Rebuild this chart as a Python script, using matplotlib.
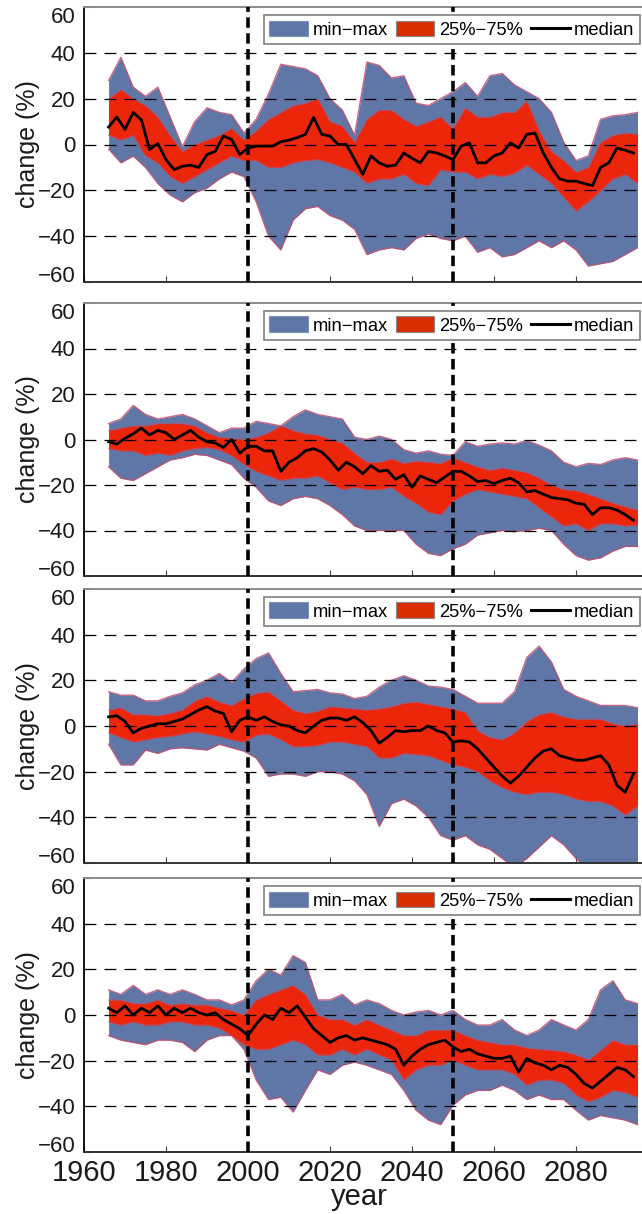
import matplotlib
matplotlib.use("Agg")
import matplotlib.pyplot as plt
from matplotlib.patches import Patch
from matplotlib.lines import Line2D

plt.rcParams['font.family'] = ['Liberation Sans', 'DejaVu Sans']

# ---------------------------------------------------------------- data
band_years = list(range(1966, 2096, 3))     # ensemble spread, every 3 years
median_years = list(range(1966, 2095, 2))   # ensemble median, every 2 years

# panel 1
p1_max = [28, 38, 25, 21, 25, 12, -1, 10, 16, 14, 13, 5, 11, 22, 35, 34, 33, 30,
          20, 15, 4, 36, 34.5, 29, 30, 18, 17, 20, 23, 27, 21, 30, 31, 26, 23, 20,
          14, 1, -7, -5, 11, 12.5, 13, 14]
p1_q75 = [20, 24, 20, 17, 12, 4, -3, 0, 2, 4, 7, 2, 6, 11, 14, 17, 18, 20,
          10, 8, 1, 11, 15, 15, 11, 8, 10, 12, 7, 16, 12, 12, 14, 14, 19, 6,
          -3, -7, -12, -10, 1, 4, 5, 4.5]
p1_q25 = [4, 2, 4, -5, -8, -14, -17, -14, -11, -8, -5, -7, -7, -10, -10, -8, -7, -6.5,
          -8, -10, -12, -17, -15, -15, -13, -17, -18, -11, -12, -12, -15, -13, -14, -12.5,
          -9, -13, -17, -23, -29, -25, -20, -15, -13, -17]
p1_min = [-2, -8, -5, -10, -17, -22, -25, -21, -19, -15, -12, -14, -25, -40, -46, -33, -28, -27,
          -31, -33, -37, -48, -46, -45, -46, -41, -39, -41, -42, -40, -47, -45, -49, -48,
          -45, -42, -45, -42, -46, -53, -52, -51, -48, -45]
p1_median = [7.6, 12, 6.6, 14, 10.7, -2.2, 0.4, -6.6, -11, -9.5, -9, -10, -4.4, -3, 3.7,
             2.2, -4.4, -1.5, -0.7, -0.7, -0.7, 1.2, 1.9, 3, 4.4, 11.8,
             4.4, 3.7, 0, 0, -6.6, -13, -5, -8, -9.5, -9, -3.7, -6, -8, -3, -3.7, -5,
             -6.6, -0.7, 0.7, -8, -8, -5, -3.7, 0.7, -1.5, 4.4, 5, -3.7, -10, -15, -16,
             -16, -17, -18, -10, -8, -1.5, -2.5, -3.7]

# panel 2
p2_max = [7, 9, 15, 11, 9, 10, 11, 9, 6, 3, 5, 5, 8, 7, 6, 10, 13, 11,
          10, 9, 1, 0, 1.5, 0, -4.5, -6, -5, -6.5, -7, -1, -3, -2, -1.5, -2, -0.5, -2.5,
          -5, -10, -12, -10.5, -11, -9, -8, -9]
p2_q75 = [4, 5, 6, 6, 7, 7, 7, 6, 3, 1, 0.5, 0, 1, 3, 6, 4, 2.5, 2,
          0, -1.5, -6, -10, -10, -8.5, -10.5, -9.5, -10, -10.5, -8, -10, -12, -13.5, -12.5,
          -13.5, -14.5, -17, -20, -22, -22.5, -24, -26, -28, -29.5, -31]
p2_q25 = [-4, -5, -5, -7, -6, -7, -5, -4, -3.5, -4.5, -7, -11, -14, -16, -18, -17, -17, -16,
          -19, -22, -21, -22, -22, -21, -25, -28, -32, -33, -27, -24, -22, -23, -24, -25,
          -26, -30, -34, -38, -37, -40, -37, -37, -38, -37.5]
p2_min = [-12, -17, -18, -15, -12, -9, -8, -6.5, -7, -9, -11, -17, -21, -27, -29, -26, -25, -26,
          -29, -33, -38, -40, -40, -40, -40, -46, -50, -51, -48, -46, -42, -41, -40, -40.5,
          -40, -39, -40, -46, -51, -53, -52, -49, -47, -47]
p2_median = [-1, -2, 0.5, 2.5, 5, 2, 4, 3, 0, 2, 4, 1, -1, -1.5, -3.5, 0, -6, -3, -3, -5,
             -5, -14, -10, -8, -5, -4,
             -5.5, -9, -13.5, -10, -12, -15, -11.5, -14, -13.5, -17.5, -15.5, -21, -16,
             -17.5, -19, -16.5, -14, -14, -16, -18.5, -18, -19.4, -18, -17, -19, -23,
             -22.5, -24, -25.5, -26, -26.5, -28, -28.5, -33, -30, -30, -31, -33, -35.5]

# panel 3
p3_max = [15, 13.5, 13.5, 11, 11, 13, 14.5, 18, 20, 23, 19, 25, 29.5, 32, 23, 15, 15.5, 16,
          14.5, 14, 12, 13, 17, 20, 22, 20, 17.5, 17, 16, 13, 10, 10, 10, 15, 30, 35,
          28, 16, 13, 11, 9, 9, 9, 8]
p3_q75 = [7, 8, 5, 5, 4.5, 5.6, 7, 11, 13, 10.5, 9, 12, 14.3, 15, 11, 7, 5.5, 6.5,
          8.5, 8, 7.5, 7, 7.5, 8.5, 10, 10.5, 9.5, 8.5, 7.5, 6, -2, -5, -6, -3, 2, 5,
          6, 4, 3, 3, 3, 1, 0, 1]
p3_q25 = [-3, -5, -7, -6, -5, -4.5, -3.5, -2.5, -3.5, -4.5, -6, -7, -4, -3.5, -6, -9, -9, -8.5,
          -7, -7, -8, -9, -14, -14, -12, -12.5, -13, -15, -17, -18, -20, -24, -27, -29,
          -30, -29, -29, -30, -32, -33, -33, -35, -39, -35]
p3_min = [-8, -17, -17, -10.5, -12, -10, -9.5, -10, -10.5, -8, -9.5, -11, -14, -22, -21, -21,
          -22, -20, -20, -21, -24, -30, -44, -34, -32, -35, -40, -48, -50, -48, -52, -54,
          -58, -62, -58, -53, -48, -52, -58, -63, -66, -66, -68, -66]
p3_median = [4, 4.5, 2, -3, -1, 0, 1, 1, 2, 3, 5, 7, 8.5, 6.5, 5.5, -2.5, 2.5, 4, 2.5, 4,
             2, 0.5, 0, -2, -3, 0,
             2.5, 3.5, 3.5, 2.5, 4, 1.5, -2, -7.5, -5, -2, -2.5, -2, -2, 0, -2, -3, -7,
             -6.5, -7, -10, -14, -18, -22, -25, -22, -18, -14, -11, -10, -13, -14, -15,
             -15, -14, -13, -17, -26, -29, -21]

# panel 4
p4_max = [11, 9, 13, 9, 11, 9, 11, 9, 6.6, 6.6, 4.4, 6.6, 15, 20, 17.5, 26, 23, 6.6,
          6.6, 9, 4.4, 6.6, 5, 2, 0, 1.3, 2, 0, 2, -2, -4.4, -4.4, -2, -6.6, -9, -6.6,
          -2, -4.4, -6.6, -2, 11, 15, 6.6, 5]
p4_q75 = [6.6, 6.6, 5, 5, 6.6, 4.4, 5, 4.4, 4.4, 3, 2, 0, 6.6, 9, 11, 13, 9, 0,
          -2, -2, -4.4, -2, -4.4, -6.6, -9, -9, -6.6, -6.6, -6.6, -9, -11, -12, -13, -13,
          -14.5, -15, -15.4, -16, -17.5, -19.7, -15.4, -11, -13, -13]
p4_q25 = [-3, -4.4, -3, -4.4, -4.4, -3, -3, -4.4, -4.4, -5.7, -9, -13, -15, -15, -13, -11,
          -13, -17.5, -17.5, -15, -17.5, -15, -17.5, -19.7, -28.5, -24, -22, -22, -19.7,
          -22, -24, -24, -24, -26, -30.7, -28.5, -28.5, -30, -35, -38, -36, -33, -34, -36]
p4_min = [-9, -11, -12, -13, -11, -11, -12, -16, -11, -9, -9, -15, -28.5, -37, -36, -42.5,
          -33, -24, -26, -22, -20.6, -22, -24, -26, -33, -41.7, -46, -48, -39.5, -35, -33,
          -33, -30.7, -33, -37, -35, -37, -37, -41.7, -46, -44, -45, -46, -48]
p4_median = [3, 1, 4, 0, 3, 1, 4, 0, 3, 1, 3, 1, 0, 1, -2, -4, -6, -9, -4, 0, -2, 3, 1, 4,
             -1, -6,
             -9, -12, -10, -9, -11, -10, -11, -12, -13, -15, -22, -18, -15, -13, -12, -11,
             -14, -16, -15, -17, -18, -19, -19, -18, -25, -19, -21, -22, -24, -22, -23,
             -26, -30, -32, -29, -26, -23, -24, -27]

period_marks = [2000, 2050]
x_ticks = [1960, 1980, 2000, 2020, 2040, 2060, 2080]
y_ticks = [-60, -40, -20, 0, 20, 40, 60]
grid_levels = [-40, -20, 0, 20, 40]
legend_labels = ["min\u2212max", "25%\u221275%", "median"]

panels = [
    (p1_min, p1_q25, p1_median, p1_q75, p1_max),
    (p2_min, p2_q25, p2_median, p2_q75, p2_max),
    (p3_min, p3_q25, p3_median, p3_q75, p3_max),
    (p4_min, p4_q25, p4_median, p4_q75, p4_max),
]

# ---------------------------------------------------------------- style
BLUE = "#5e77a6"
RED = "#ec260a"
RED_KEY = "#d92e00"
MEMBER = "#c04f72"

W, H = 642, 1214
fig = plt.figure(figsize=(W / 100, H / 100), dpi=100)

# vertical extent of each panel (pixels from top)
rows_px = [(7, 282), (303, 576), (589, 863), (878, 1152)]
left_px = 84
px_per_year = 4.1
x_lo, x_hi = 1960, 2097

for k, ((top, bot), (vmin, q25, med, q75, vmax)) in enumerate(zip(rows_px, panels)):
    ax = fig.add_axes([left_px / W, 1 - bot / H,
                       (x_hi - x_lo) * px_per_year / W, (bot - top) / H])

    ax.fill_between(band_years, vmin, vmax, color=BLUE, lw=0, zorder=1)
    ax.fill_between(band_years, q25, q75, color=RED, lw=0, zorder=1.5)
    for edge in (vmin, vmax):
        ax.plot(band_years, edge, color=MEMBER, lw=1.0, alpha=0.85, zorder=1.6)
    for edge in (q25, q75):
        ax.plot(band_years, edge, color=MEMBER, lw=0.8, alpha=0.6, zorder=1.6)

    for lvl in grid_levels:
        ax.axhline(lvl, color="black", lw=0.9, ls=(0, (9.5, 6.5)), zorder=3)

    ax.plot(median_years, med, color="black", lw=2.0, zorder=4,
            solid_joinstyle="round")

    for yr in period_marks:
        ax.axvline(yr, color="black", lw=2.6, ls=(0, (2.9, 1.5)), zorder=4.5)

    ax.set_xlim(x_lo, x_hi)
    ax.set_ylim(-60, 60)
    ax.set_xticks(x_ticks)
    ax.set_yticks(y_ticks)

    ax.spines["right"].set_visible(False)
    ax.spines["top"].set_color("#8a8a8a")
    ax.spines["top"].set_linewidth(1.4)
    ax.spines["left"].set_linewidth(1.3)
    ax.spines["bottom"].set_color("#333333")
    ax.spines["bottom"].set_linewidth(1.4)

    ax.tick_params(axis="both", direction="in", length=4, width=0.8,
                   color="#444444", labelcolor="#1a1a1a")
    ax.tick_params(axis="y", labelsize=16, pad=6)
    ax.tick_params(axis="x", labelsize=21, pad=5)

    yt = ax.yaxis.get_major_ticks()
    yt[-1].label1.set_verticalalignment("top")
    yt[0].label1.set_verticalalignment("baseline")

    ax.set_ylabel("change (%)", fontsize=18, color="#1a1a1a")
    ax.yaxis.set_label_coords(-0.078, 0.5)

    if k == len(panels) - 1:
        ax.set_xlabel("year", fontsize=21, color="#1a1a1a")
        ax.xaxis.set_label_coords(0.491, -0.113)
    else:
        ax.tick_params(axis="x", labelbottom=False)

    handles = [
        Patch(facecolor=BLUE, edgecolor="#8090b0", lw=0.8),
        Patch(facecolor=RED_KEY, edgecolor="#888888", lw=0.8),
        Line2D([], [], color="black", lw=2.2),
    ]
    leg = ax.legend(handles, legend_labels, loc="upper right",
                    bbox_to_anchor=(640 / W, 1 - (top + 8) / H),
                    bbox_transform=fig.transFigure, ncol=3, fontsize=13.2,
                    frameon=True, fancybox=False, framealpha=1,
                    edgecolor="#7f7f7f", borderpad=0.3, borderaxespad=0,
                    handlelength=2.1, handleheight=0.95, handletextpad=0.25,
                    columnspacing=0.45)
    leg.get_frame().set_linewidth(1.2)
    leg.set_zorder(10)

fig.savefig("out.png", dpi=100)
